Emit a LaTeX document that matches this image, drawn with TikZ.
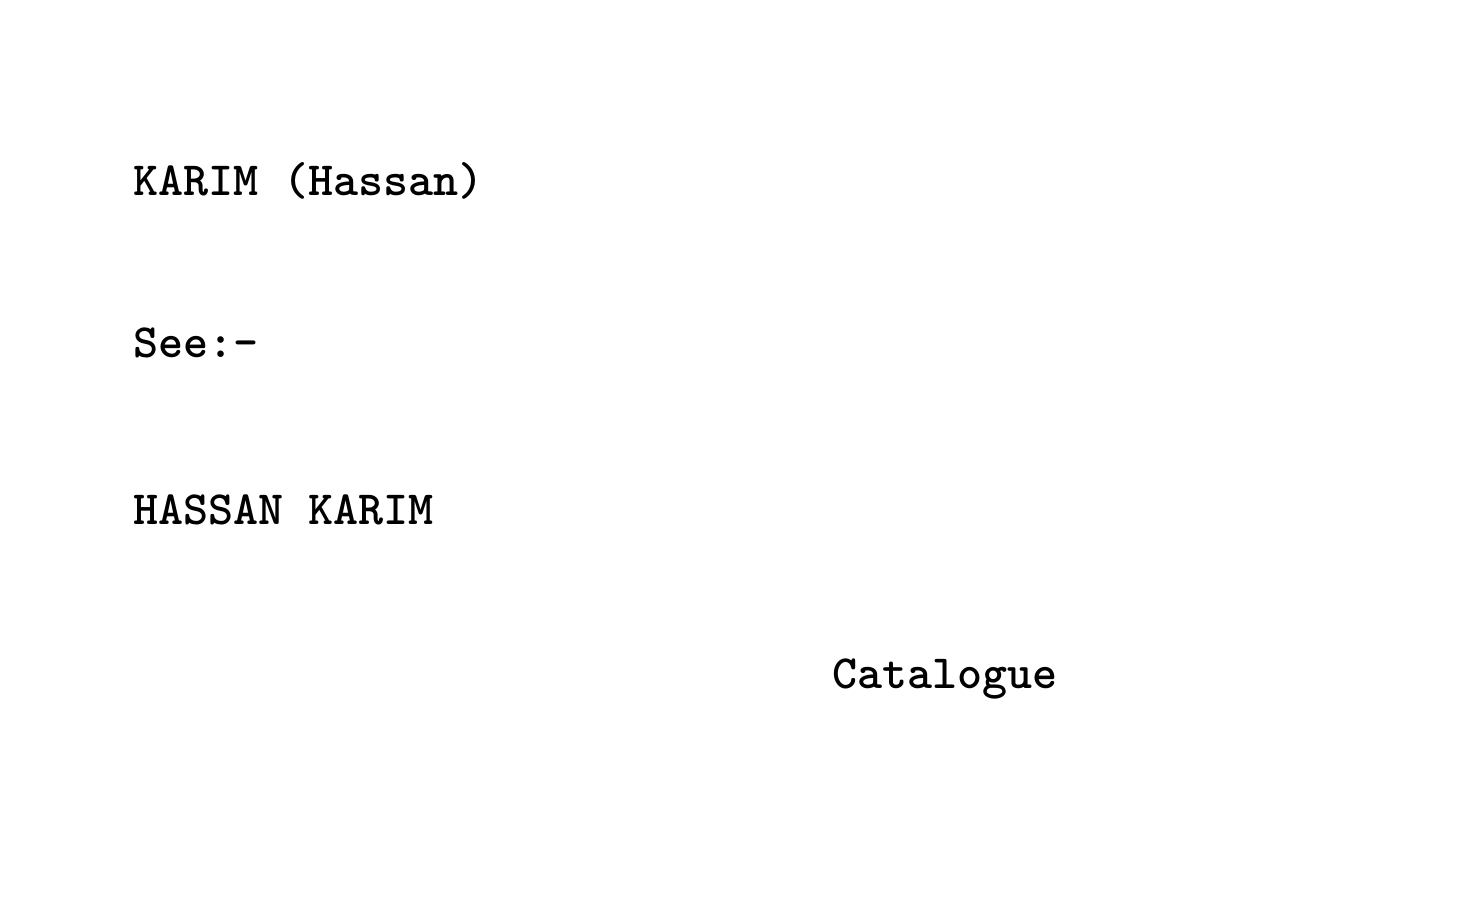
\documentclass[tikz,border=0pt]{standalone}
\usepackage{fontspec}
\begin{document}
\begin{tikzpicture}[x=0.5pt,y=-0.5pt,
  typed/.style={anchor=base west,inner sep=0pt,font=\ttfamily\bfseries\fontsize{23.85pt}{28pt}\selectfont}]
\useasboundingbox[fill=white] (0,0) rectangle (1478,914);
\node[typed] (name) at (133,196) {KARIM (Hassan)};
\node[typed] (see) at (133,358) {See:-};
\node[typed] (ref) at (133,524) {HASSAN KARIM};
\node[typed] (cat) at (832,688) {Catalogue};
\end{tikzpicture}
\end{document}
